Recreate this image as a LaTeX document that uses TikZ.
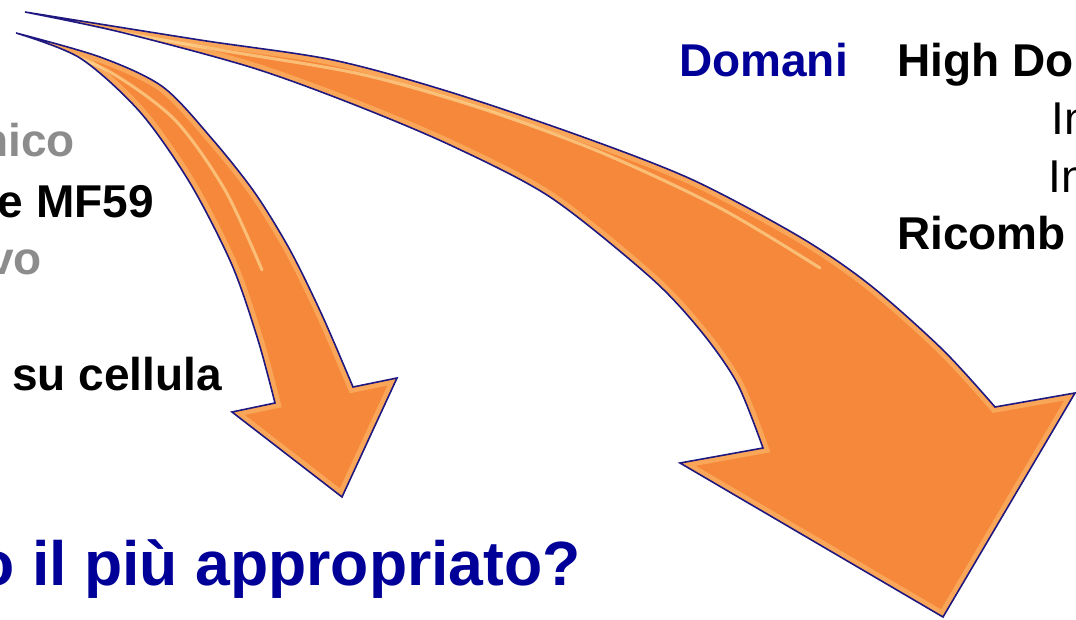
\documentclass[tikz,border=0pt]{standalone}
\usepackage{fontspec}
\setmainfont{Liberation Sans}
\usepackage{xcolor}
\usetikzlibrary{positioning}

\definecolor{arroworange}{RGB}{245,136,58}
\definecolor{arrowlight}{RGB}{255,196,120}
\definecolor{arrowshine}{RGB}{255,236,170}
\definecolor{arrowedge}{RGB}{30,24,128}
\definecolor{titleblue}{RGB}{0,0,153}
\definecolor{textgrey}{RGB}{140,140,140}

\tikzset{
  lbl/.style={inner sep=0pt, font=\bfseries\fontsize{46}{50}\selectfont},
  plainlbl/.style={inner sep=0pt, font=\fontsize{46}{50}\selectfont},
  biglbl/.style={inner sep=0pt, text=titleblue, font=\bfseries\fontsize{62.5}{68}\selectfont},
  arrowbody/.style={fill=arroworange},
  arrowrim/.style={draw=arrowedge, line width=1.6pt, line join=miter},
  bevel/.style={draw=arrowlight, line width=11pt, opacity=0.5},
  shine/.style={draw=arrowshine, line width=3pt, line cap=round, opacity=0.55}
}

% outlines of the two curved arrows (pixel grid, y down)
\newcommand{\shortarrow}{plot[smooth] coordinates {(16,33) (100,57) (163,87) (213,140) (255,193) (290,250) (322,315) (353,387)}
  -- (397,378) -- (342,497) -- (232,412) -- (275,403)
  -- plot[smooth] coordinates {(275,403) (258,340) (232,265) (190,183) (140,112) (80,58) (16,33)} -- cycle}
\newcommand{\longarrow}{plot[smooth] coordinates {(25,12) (200,40) (333,60) (450,92) (583,137) (693,180) (800,237) (870,285) (943,350) (995,407)}
  -- (1075,393) -- (943,617) -- (680,463) -- (763,448)
  -- plot[smooth] coordinates {(763,448) (737,383) (700,330) (650,277) (550,197) (450,145) (350,103) (250,67) (120,32) (25,12)} -- cycle}

\begin{document}
\begin{tikzpicture}[x=1pt, y=-1pt]
    \useasboundingbox (0,0) rectangle (1076,620);

    % left column, cut at the page edge
    \node[lbl, text=textgrey, anchor=base east] (nico) at (75,157) {nico};
    \node[lbl, anchor=base east] (mfnine) at (154,218) {e MF59};
    \node[lbl, text=textgrey, anchor=base east] (vo) at (42,275) {vo};
    \node[lbl, anchor=base east] (cellula) at (222,390) {su cellula};
    \node[biglbl, anchor=base east] (question) at (581,585) {o il più appropriato?};

    % right column
    \node[lbl, text=titleblue, anchor=base west] (domani) at (679,77) {Domani};
    \node[lbl, anchor=base west] (highdose) at (897,77) {High Do};
    \node[plainlbl, anchor=base west] (inA) at (1051,135) {In};
    \node[plainlbl, anchor=base west] (inB) at (1048,193) {In};
    \node[lbl, anchor=base west] (ricomb) at (897,250) {Ricomb};

    % short arrow
    \fill[arrowbody] \shortarrow;
    \begin{scope}
        \clip \shortarrow;
        \path[bevel] \shortarrow;
        \draw[shine] plot[smooth] coordinates {(40,42) (110,72) (175,120) (225,190) (262,270)};
    \end{scope}
    \draw[arrowrim] \shortarrow;

    % long arrow
    \fill[arrowbody] \longarrow;
    \begin{scope}
        \clip \longarrow;
        \path[bevel] \longarrow;
        \draw[shine] plot[smooth] coordinates {(60,22) (220,50) (360,74) (480,108) (600,152) (720,208) (820,268)};
        \draw[shine, opacity=0.4] plot[smooth] coordinates {(120,36) (260,74) (380,120) (500,180)};
    \end{scope}
    \draw[arrowrim] \longarrow;
\end{tikzpicture}
\end{document}
